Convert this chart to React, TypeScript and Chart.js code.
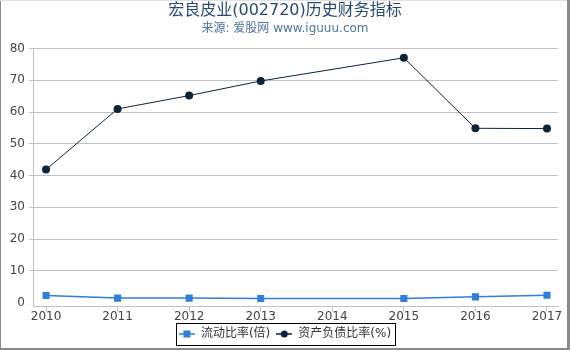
import React, { useEffect, useRef } from "react";
import { Chart, registerables } from "chart.js";

Chart.register(...registerables);

const titleText = "宏良皮业(002720)历史财务指标";
const subtitleText = "来源: 爱股网 www.iguuu.com";
const years = [2010, 2011, 2012, 2013, 2015, 2016, 2017];
const currentRatio = [2.2, 1.4, 1.4, 1.3, 1.3, 1.8, 2.3];
const debtRatio = [41.9, 61.0, 65.2, 69.8, 77.1, 54.9, 54.8];
const xTicks = [2010, 2011, 2012, 2013, 2014, 2015, 2016, 2017];
const yTicks = [0, 10, 20, 30, 40, 50, 60, 70, 80];
const seriesNames = ["流动比率(倍)", "资产负债比率(%)"];

const FONT = "'DejaVu Sans', 'Noto Sans CJK SC', sans-serif";
const BLUE = "#2f7ed8";
const NAVY = "#0d233a";

function makeLegendIcon(color: string, kind: "rect" | "circle") {
  const c = document.createElement("canvas");
  c.width = 16;
  c.height = 10;
  const ctx = c.getContext("2d")!;
  ctx.strokeStyle = color;
  ctx.lineWidth = 1.5;
  ctx.beginPath();
  ctx.moveTo(0, 5);
  ctx.lineTo(16, 5);
  ctx.stroke();
  ctx.fillStyle = color;
  if (kind === "rect") {
    ctx.fillRect(4.5, 1.5, 7, 7);
  } else {
    ctx.beginPath();
    ctx.arc(8, 5, 3.5, 0, Math.PI * 2);
    ctx.fill();
  }
  return c;
}

const framePlugin = {
  id: "frame",
  afterDraw(chart: any) {
    const ctx = chart.ctx;
    const W = chart.width;
    const H = chart.height;
    ctx.save();
    const boxes = chart.legend && chart.legend.legendHitBoxes;
    if (boxes && boxes.length) {
      let l = Infinity, r = -Infinity, t = Infinity, b = -Infinity;
      boxes.forEach((hb: any) => {
        l = Math.min(l, hb.left);
        r = Math.max(r, hb.left + hb.width);
        t = Math.min(t, hb.top);
        b = Math.max(b, hb.top + hb.height);
      });
      ctx.strokeStyle = "#000";
      ctx.lineWidth = 1;
      ctx.strokeRect(Math.round(l - 3) + 0.5, Math.round(t - 5) + 0.5, Math.round(r - l + 7), Math.round(b - t + 10));
    }
    ctx.fillStyle = "#8a8a8a";
    ctx.fillRect(0, 0, 1, H);
    ctx.fillRect(W - 3, 0, 3, H);
    ctx.fillRect(0, H - 2, W, 2);
    ctx.fillStyle = "#e0e0e0";
    ctx.fillRect(0, 0, W - 3, 1);
    ctx.restore();
  },
};

export default function App() {
  const ref = useRef<HTMLCanvasElement | null>(null);
  useEffect(() => {
    document.body.style.margin = "0";
    const icons = [makeLegendIcon(BLUE, "rect"), makeLegendIcon(NAVY, "circle")];
    const chart = new Chart(ref.current!, {
      type: "line",
      data: {
        datasets: [
          {
            label: seriesNames[0],
            data: years.map((y, i) => ({ x: y, y: currentRatio[i] })),
            borderColor: BLUE,
            backgroundColor: BLUE,
            borderWidth: 1.5,
            pointStyle: "rect",
            pointRadius: 5,
            pointBorderWidth: 0,
            tension: 0,
          },
          {
            label: seriesNames[1],
            data: years.map((y, i) => ({ x: y, y: debtRatio[i] })),
            borderColor: NAVY,
            backgroundColor: NAVY,
            borderWidth: 1,
            pointStyle: "circle",
            pointRadius: 4,
            pointBorderWidth: 0,
            tension: 0,
          },
        ],
      },
      options: {
        responsive: false,
        animation: false,
        layout: { padding: { left: 0, right: 0, top: 0, bottom: 0 } },
        scales: {
          x: {
            type: "linear",
            min: 2009.818,
            max: 2017.154,
            afterBuildTicks: (axis: any) => {
              axis.ticks = xTicks.map((v) => ({ value: v }));
            },
            afterFit: (scale: any) => {
              scale.paddingRight = 12;
            },
            ticks: {
              callback: (v: any) => String(v),
              color: "#444",
              font: { family: FONT, size: 12 },
              padding: -2,
              maxRotation: 0,
              autoSkip: false,
            },
            grid: {
              drawOnChartArea: false,
              drawTicks: true,
              tickLength: 5,
              color: "#c0c0c0",
            },
            border: { display: true, color: "#c0c0c0" },
          },
          y: {
            min: -1.27,
            max: 80,
            afterBuildTicks: (axis: any) => {
              axis.ticks = yTicks.map((v) => ({ value: v }));
            },
            afterFit: (scale: any) => {
              scale.width = 33;
            },
            ticks: {
              color: "#444",
              font: { family: FONT, size: 12 },
              padding: 4,
            },
            grid: {
              color: (c: any) => (c.tick && c.tick.value === 0 ? "rgba(0,0,0,0)" : "#c0c0c0"),
              tickLength: 4,
            },
            border: { display: true, color: "#c0c0c0" },
          },
        },
        plugins: {
          tooltip: { enabled: false },
          title: {
            display: true,
            text: titleText,
            color: "#274b6d",
            font: { family: FONT, size: 16, weight: "normal" },
            padding: { top: 1, bottom: 0 },
          },
          subtitle: {
            display: true,
            text: subtitleText,
            color: "#4d759e",
            font: { family: FONT, size: 12, weight: "normal" },
            padding: { top: 1, bottom: 13 },
          },
          legend: {
            position: "bottom",
            labels: {
              usePointStyle: true,
              pointStyleWidth: 16,
              boxHeight: 10,
              padding: 6,
              color: "#333",
              font: { family: FONT, size: 12 },
              generateLabels: (ch: any) => {
                const base = Chart.defaults.plugins.legend.labels.generateLabels(ch);
                return base.map((it: any, i: number) => ({ ...it, pointStyle: icons[i] }));
              },
            },
          },
        },
      },
      plugins: [framePlugin],
    } as any);
    return () => chart.destroy();
  }, []);
  return <canvas ref={ref} width={570} height={350} style={{ display: "block" }} />;
}
